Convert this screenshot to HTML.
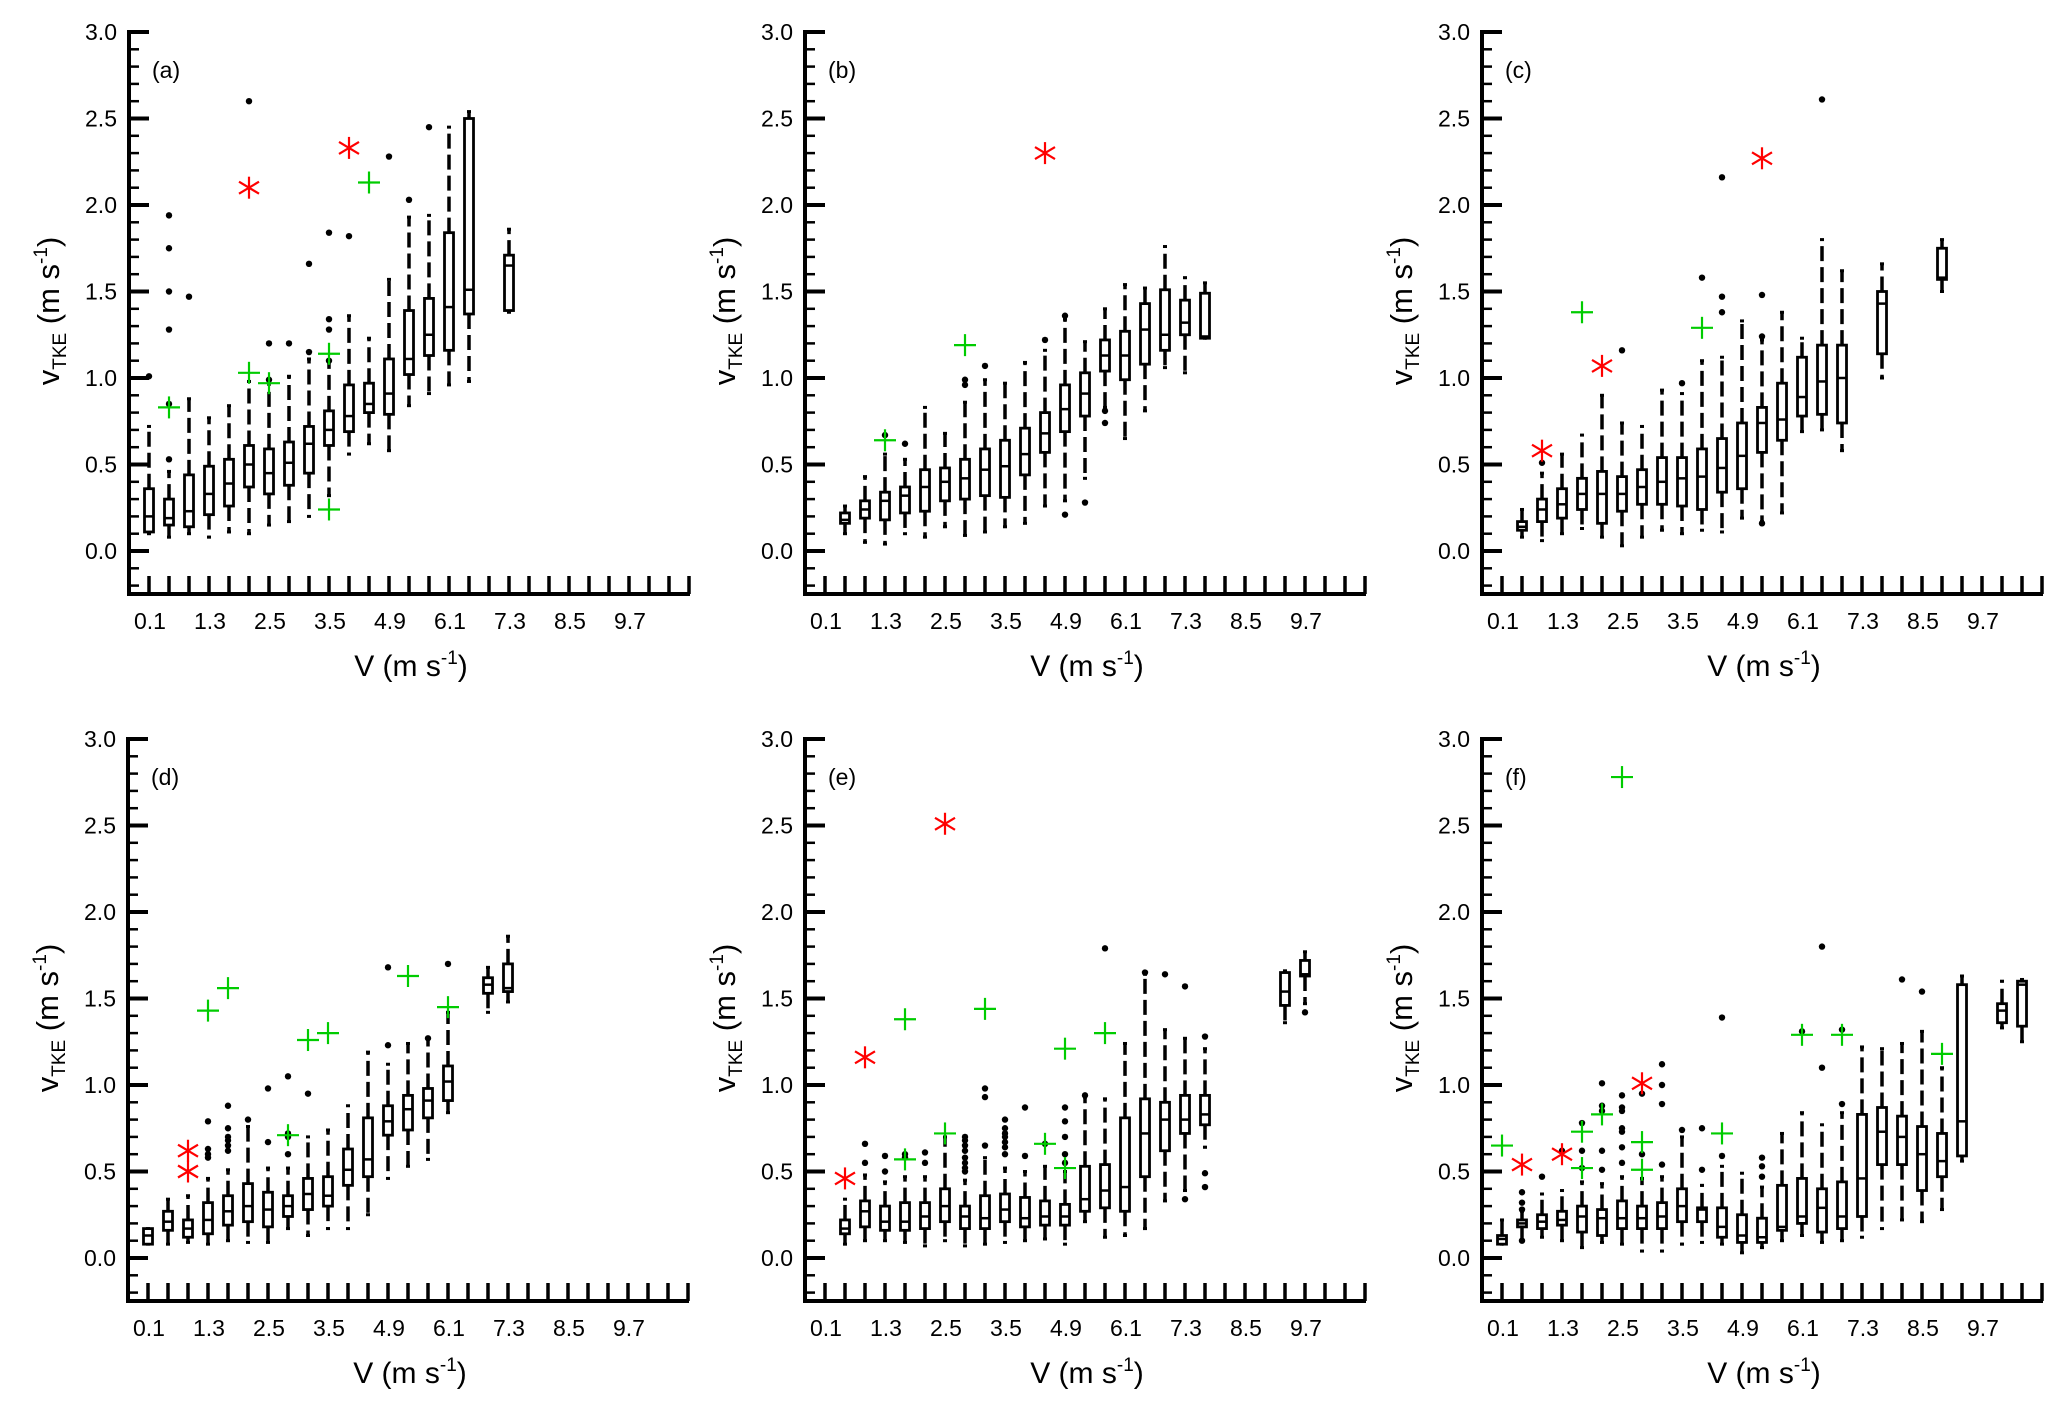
<!DOCTYPE html>
<html><head><meta charset="utf-8"><title>vTKE box plots</title>
<style>html,body{margin:0;padding:0;background:#fff}svg{display:block}</style></head>
<body>
<svg id="chart" xmlns="http://www.w3.org/2000/svg" width="2067" height="1413" viewBox="0 0 2067 1413" font-family="Liberation Sans, Arial, sans-serif"></svg>
<script>
// ---- Data (index k -> V = 0.1 + 0.4k) ----
const xTickLabels = ["0.1","1.3","2.5","3.5","4.9","6.1","7.3","8.5","9.7"];
const yTickLabels = ["0.0","0.5","1.0","1.5","2.0","2.5","3.0"];

const aIdx=[0,1,2,3,4,5,6,7,8,9,10,11,12,13,14,15,16,18];
const aLo =[0.10,0.08,0.10,0.08,0.11,0.10,0.15,0.17,0.20,0.32,0.56,0.62,0.58,0.84,0.91,0.96,0.98,1.38];
const aQ1 =[0.11,0.15,0.14,0.21,0.26,0.37,0.33,0.38,0.45,0.61,0.69,0.80,0.79,1.02,1.13,1.16,1.37,1.39];
const aMed=[0.20,0.19,0.23,0.33,0.39,0.50,0.45,0.51,0.62,0.70,0.78,0.85,0.91,1.11,1.25,1.41,1.51,1.65];
const aQ3 =[0.36,0.30,0.44,0.49,0.53,0.61,0.59,0.63,0.72,0.81,0.96,0.97,1.11,1.39,1.46,1.84,2.50,1.71];
const aHi =[0.72,0.46,0.88,0.77,0.84,0.98,0.98,1.01,1.11,1.10,1.36,1.23,1.57,1.93,1.94,2.45,2.54,1.86];
const aOut=[[0,1.01],[1,0.53],[1,0.85],[1,1.28],[1,1.50],[1,1.75],[1,1.94],[2,1.47],[5,2.60],[6,0.99],[6,1.20],[7,1.20],[8,1.15],[8,1.66],[9,1.10],[9,1.28],[9,1.34],[9,1.84],[10,1.82],[12,2.28],[13,2.03],[14,2.45]];
const aStar=[[5,2.10],[10,2.33]];
const aPlus=[[1,0.83],[5,1.03],[6,0.97],[9,1.14],[9,0.24],[11,2.13]];

const bIdx=[1,2,3,4,5,6,7,8,9,10,11,12,13,14,15,16,17,18,19];
const bLo =[0.10,0.05,0.04,0.10,0.08,0.14,0.09,0.11,0.14,0.16,0.26,0.29,0.42,0.83,0.65,0.81,1.06,1.03,1.23];
const bQ1 =[0.16,0.19,0.18,0.22,0.23,0.29,0.30,0.32,0.31,0.44,0.57,0.69,0.78,1.04,0.99,1.08,1.16,1.25,1.23];
const bMed=[0.18,0.24,0.29,0.32,0.37,0.40,0.42,0.47,0.49,0.56,0.68,0.82,0.91,1.13,1.13,1.28,1.25,1.32,1.24];
const bQ3 =[0.22,0.29,0.34,0.37,0.47,0.48,0.53,0.59,0.64,0.71,0.80,0.96,1.03,1.22,1.27,1.43,1.51,1.45,1.49];
const bHi =[0.26,0.43,0.56,0.53,0.83,0.68,0.86,0.99,0.97,1.09,1.16,1.34,1.21,1.40,1.54,1.52,1.76,1.58,1.55];
const bOut=[[3,0.67],[4,0.62],[7,0.96],[7,0.99],[8,1.07],[11,1.22],[12,0.21],[12,1.36],[13,0.28],[14,0.81],[14,0.74]];
const bStar=[[11,2.30]];
const bPlus=[[3,0.64],[7,1.19]];

const cIdx=[1,2,3,4,5,6,7,8,9,10,11,12,13,14,15,16,17,19,22];
const cLo =[0.08,0.06,0.10,0.13,0.08,0.03,0.08,0.12,0.10,0.12,0.11,0.19,0.17,0.22,0.69,0.70,0.58,1.00,1.50];
const cQ1 =[0.12,0.17,0.19,0.24,0.16,0.23,0.27,0.27,0.26,0.24,0.34,0.36,0.57,0.64,0.78,0.79,0.74,1.14,1.57];
const cMed=[0.14,0.24,0.27,0.33,0.33,0.33,0.37,0.40,0.42,0.43,0.48,0.55,0.74,0.76,0.89,0.98,1.00,1.43,1.58];
const cQ3 =[0.17,0.30,0.36,0.42,0.46,0.43,0.47,0.54,0.54,0.59,0.65,0.74,0.83,0.97,1.12,1.19,1.19,1.50,1.75];
const cHi =[0.24,0.45,0.56,0.67,0.90,0.74,0.72,0.93,0.91,1.10,1.12,1.33,1.22,1.38,1.23,1.80,1.62,1.66,1.80];
const cOut=[[2,0.51],[6,1.16],[9,0.97],[10,1.58],[11,1.47],[11,1.38],[11,2.16],[13,0.16],[13,1.24],[13,1.48],[16,2.61]];
const cStar=[[2,0.58],[5,1.07],[13,2.27]];
const cPlus=[[4,1.38],[10,1.29]];

const dIdx=[0,1,2,3,4,5,6,7,8,9,10,11,12,13,14,15,17,18];
const dLo =[0.08,0.08,0.09,0.08,0.10,0.09,0.09,0.17,0.13,0.17,0.17,0.25,0.46,0.53,0.57,0.84,1.42,1.48];
const dQ1 =[0.08,0.16,0.12,0.14,0.19,0.21,0.18,0.24,0.28,0.30,0.42,0.47,0.71,0.74,0.81,0.91,1.53,1.54];
const dMed=[0.13,0.21,0.17,0.22,0.27,0.30,0.28,0.30,0.37,0.36,0.51,0.57,0.79,0.86,0.91,1.02,1.58,1.56];
const dQ3 =[0.17,0.27,0.22,0.32,0.36,0.43,0.38,0.36,0.46,0.47,0.63,0.81,0.88,0.94,0.98,1.11,1.62,1.70];
const dHi =[0.17,0.34,0.36,0.46,0.51,0.76,0.52,0.52,0.70,0.74,0.88,1.19,1.12,1.24,1.27,1.42,1.68,1.86];
const dOut=[[3,0.58],[3,0.60],[3,0.63],[3,0.79],[4,0.62],[4,0.65],[4,0.68],[4,0.70],[4,0.75],[4,0.88],[5,0.80],[6,0.67],[6,0.98],[7,0.60],[7,0.70],[7,0.72],[7,1.05],[8,0.95],[12,1.23],[12,1.68],[14,1.27],[15,1.70]];
const dStar=[[2,0.62],[2,0.50]];
const dPlus=[[3,1.43],[4,1.56],[7,0.71],[8,1.26],[9,1.30],[13,1.63],[15,1.45]];

const eIdx=[1,2,3,4,5,6,7,8,9,10,11,12,13,14,15,16,17,18,19,23,24];
const eLo =[0.08,0.10,0.10,0.09,0.07,0.10,0.07,0.08,0.09,0.10,0.11,0.08,0.21,0.12,0.13,0.17,0.33,0.39,0.64,1.36,1.47];
const eQ1 =[0.14,0.18,0.16,0.16,0.17,0.21,0.17,0.17,0.21,0.18,0.19,0.19,0.27,0.29,0.27,0.47,0.62,0.72,0.77,1.46,1.63];
const eMed=[0.17,0.27,0.21,0.21,0.24,0.30,0.24,0.23,0.28,0.23,0.24,0.24,0.34,0.39,0.41,0.72,0.80,0.80,0.83,1.54,1.64];
const eQ3 =[0.22,0.33,0.30,0.32,0.32,0.40,0.30,0.36,0.37,0.35,0.33,0.31,0.53,0.54,0.81,0.92,0.90,0.94,0.94,1.65,1.72];
const eHi =[0.34,0.48,0.44,0.47,0.47,0.70,0.45,0.58,0.52,0.50,0.53,0.50,0.93,0.92,1.24,1.64,1.32,1.27,1.21,1.66,1.77];
const eOut=[[2,0.55],[2,0.66],[3,0.50],[3,0.59],[4,0.58],[4,0.60],[5,0.55],[5,0.61],[7,0.50],[7,0.52],[7,0.55],[7,0.58],[7,0.62],[7,0.65],[7,0.68],[7,0.70],[8,0.65],[8,0.93],[8,0.98],[9,0.60],[9,0.64],[9,0.67],[9,0.70],[9,0.72],[9,0.75],[9,0.80],[10,0.59],[10,0.87],[11,0.66],[12,0.55],[12,0.60],[12,0.70],[12,0.79],[12,0.87],[13,0.94],[14,1.79],[16,1.65],[17,1.64],[18,0.34],[18,1.57],[19,0.49],[19,0.41],[19,1.28],[24,1.42]];
const eStar=[[1,0.46],[2,1.16],[6,2.51]];
const ePlus=[[4,1.38],[4,0.57],[6,0.72],[8,1.44],[11,0.66],[12,1.21],[12,0.52],[14,1.30]];

const fIdx=[0,1,2,3,4,5,6,7,8,9,10,11,12,13,14,15,16,17,18,19,20,21,22,23,25,26];
const fLo =[0.08,0.10,0.12,0.10,0.06,0.09,0.08,0.04,0.04,0.08,0.09,0.08,0.03,0.06,0.10,0.13,0.09,0.10,0.12,0.17,0.22,0.21,0.28,0.56,1.33,1.25];
const fQ1 =[0.08,0.18,0.17,0.19,0.15,0.13,0.17,0.17,0.17,0.21,0.21,0.12,0.09,0.09,0.16,0.20,0.15,0.17,0.24,0.54,0.54,0.39,0.47,0.59,1.36,1.34];
const fMed=[0.11,0.20,0.21,0.22,0.24,0.23,0.23,0.23,0.24,0.30,0.28,0.18,0.13,0.12,0.18,0.24,0.29,0.24,0.46,0.73,0.70,0.60,0.56,0.79,1.43,1.58];
const fQ3 =[0.13,0.22,0.25,0.27,0.30,0.28,0.33,0.30,0.32,0.40,0.29,0.29,0.25,0.23,0.42,0.46,0.40,0.44,0.83,0.87,0.82,0.76,0.72,1.58,1.47,1.60];
const fHi =[0.22,0.27,0.37,0.39,0.44,0.43,0.47,0.46,0.47,0.70,0.42,0.53,0.49,0.41,0.72,0.84,0.77,0.84,1.22,1.21,1.24,1.31,1.10,1.63,1.60,1.61];
const fOut=[[1,0.10],[1,0.28],[1,0.32],[1,0.38],[2,0.47],[3,0.62],[4,0.52],[4,0.62],[4,0.78],[5,0.51],[5,0.62],[5,0.85],[5,0.88],[5,1.01],[6,0.55],[6,0.64],[6,0.73],[6,0.75],[6,0.85],[6,0.87],[6,0.94],[7,0.60],[7,0.95],[8,0.54],[8,0.89],[8,1.00],[8,1.12],[9,0.74],[10,0.51],[10,0.75],[11,0.59],[11,1.39],[13,0.47],[13,0.53],[13,0.58],[15,1.31],[16,1.10],[16,1.80],[17,0.89],[17,1.32],[20,1.61],[21,1.54]];
const fStar=[[1,0.54],[3,0.60],[7,1.01]];
const fPlus=[[0,0.65],[4,0.73],[4,0.52],[5,0.83],[6,2.78],[7,0.67],[7,0.51],[11,0.72],[15,1.29],[17,1.29],[22,1.18]];

// ---- Rendering ----
const NS="http://www.w3.org/2000/svg";
const svg=document.getElementById('chart');
const UNIT=173, STEP=20;
function mk(tag,attrs,parent){const e=document.createElementNS(NS,tag);for(const k in attrs)e.setAttribute(k,attrs[k]);(parent||svg).appendChild(e);return e;}

const panels=[
 {id:'a',ox:129,oy:551,idx:aIdx,lo:aLo,q1:aQ1,med:aMed,q3:aQ3,hi:aHi,out:aOut,star:aStar,plus:aPlus},
 {id:'b',ox:805,oy:551,idx:bIdx,lo:bLo,q1:bQ1,med:bMed,q3:bQ3,hi:bHi,out:bOut,star:bStar,plus:bPlus},
 {id:'c',ox:1482,oy:551,idx:cIdx,lo:cLo,q1:cQ1,med:cMed,q3:cQ3,hi:cHi,out:cOut,star:cStar,plus:cPlus},
 {id:'d',ox:128,oy:1258,idx:dIdx,lo:dLo,q1:dQ1,med:dMed,q3:dQ3,hi:dHi,out:dOut,star:dStar,plus:dPlus},
 {id:'e',ox:805,oy:1258,idx:eIdx,lo:eLo,q1:eQ1,med:eMed,q3:eQ3,hi:eHi,out:eOut,star:eStar,plus:ePlus},
 {id:'f',ox:1482,oy:1258,idx:fIdx,lo:fLo,q1:fQ1,med:fMed,q3:fQ3,hi:fHi,out:fOut,star:fStar,plus:fPlus}
];

panels.forEach(p=>{
  const g=mk('g',{});
  
  
  const Y=v=>p.oy-v*UNIT;
  const X=k=>p.ox+STEP*(k+1);
  const bottom=p.oy+43, top=Y(3);
  const yax=mk('line',{x1:p.ox,y1:top-2,x2:p.ox,y2:bottom+2,stroke:'#000','stroke-width':4},g);
  
  
  const xax=mk('line',{x1:p.ox-2,y1:bottom,x2:p.ox+STEP*28+1,y2:bottom,stroke:'#000','stroke-width':4},g);
  
  
  for(let t=-2;t<=30;t++){
    const major=t%5===0&&t>=0;
    const tl=mk('line',{x1:p.ox,y1:Y(t/10),x2:p.ox+(major?20:10),y2:Y(t/10),stroke:'#000','stroke-width':major?4:2.5},g);
    
    
  }
  yTickLabels.forEach((s,i)=>{
    const t=mk('text',{x:p.ox-12,y:Y(i*0.5)+8,'text-anchor':'end','font-size':23,fill:'#000'},g);
    t.textContent=s;
    
    
  });
  for(let k=0;k<28;k++){
    const tl=mk('line',{x1:X(k),y1:bottom,x2:X(k),y2:bottom-18,stroke:'#000','stroke-width':3.5},g);
    
    
  }
  xTickLabels.forEach((s,i)=>{
    const t=mk('text',{x:X(i*3)+1,y:p.oy+78,'text-anchor':'middle','font-size':23,fill:'#000'},g);
    t.textContent=s;
    
    
  });
  const xt=mk('text',{x:p.ox+282,y:p.oy+125,'text-anchor':'middle','font-size':30,fill:'#000'},g);
  xt.innerHTML='V (m s<tspan font-size="19" dy="-12">-1</tspan><tspan dy="12">)</tspan>';
  
  
  const cy=p.oy-240, tx=p.ox-70;
  const yt=mk('text',{x:tx,y:cy,'text-anchor':'middle','font-size':31,fill:'#000',transform:'rotate(-90 '+tx+' '+cy+')'},g);
  yt.innerHTML='v<tspan font-size="19" dy="7">TKE</tspan><tspan dy="-7"> (m s</tspan><tspan font-size="19" dy="-12">-1</tspan><tspan dy="12">)</tspan>';
  
  
  const pl=mk('text',{x:p.ox+23,y:p.oy-473,'font-size':23,fill:'#000'},g);
  pl.textContent='('+p.id+')';
  
  
  p.idx.forEach((k,i)=>{
    const x=X(k);
    const bg=mk('g',{},g);
    
    
    mk('line',{x1:x,y1:Y(p.q3[i]),x2:x,y2:Y(p.hi[i]),stroke:'#000','stroke-width':3.5,'stroke-dasharray':'15,6'},bg);
    mk('line',{x1:x,y1:Y(p.q1[i]),x2:x,y2:Y(p.lo[i]),stroke:'#000','stroke-width':3.5,'stroke-dasharray':'15,6'},bg);
    mk('line',{x1:x-2,y1:Y(p.hi[i]),x2:x+2,y2:Y(p.hi[i]),stroke:'#000','stroke-width':3},bg);
    mk('line',{x1:x-2,y1:Y(p.lo[i]),x2:x+2,y2:Y(p.lo[i]),stroke:'#000','stroke-width':3},bg);
    const h=Math.max(Y(p.q1[i])-Y(p.q3[i]),3);
    mk('rect',{x:x-4.5,y:Y(p.q3[i]),width:9,height:h,fill:'#fff',stroke:'#000','stroke-width':2.8},bg);
    mk('line',{x1:x-4.5,y1:Y(p.med[i]),x2:x+4.5,y2:Y(p.med[i]),stroke:'#000','stroke-width':2.5},bg);
  });
  p.out.forEach(o=>{
    const c=mk('circle',{cx:X(o[0]),cy:Y(o[1]),r:3.2,fill:'#000'},g);
    
    
  });
  p.star.forEach(s=>{
    const x=X(s[0]),y=Y(s[1]);
    const sg=mk('g',{stroke:'#ff0000','stroke-width':2.2},g);
    
    
    mk('line',{x1:x,y1:y-11,x2:x,y2:y+11},sg);
    mk('line',{x1:x-10,y1:y-6,x2:x+10,y2:y+6},sg);
    mk('line',{x1:x-10,y1:y+6,x2:x+10,y2:y-6},sg);
  });
  p.plus.forEach(s=>{
    const x=X(s[0]),y=Y(s[1]);
    const sg=mk('g',{stroke:'#00cc00','stroke-width':2.2},g);
    
    
    mk('line',{x1:x,y1:y-11,x2:x,y2:y+11},sg);
    mk('line',{x1:x-11,y1:y,x2:x+11,y2:y},sg);
  });
});
</script>
</body></html>
